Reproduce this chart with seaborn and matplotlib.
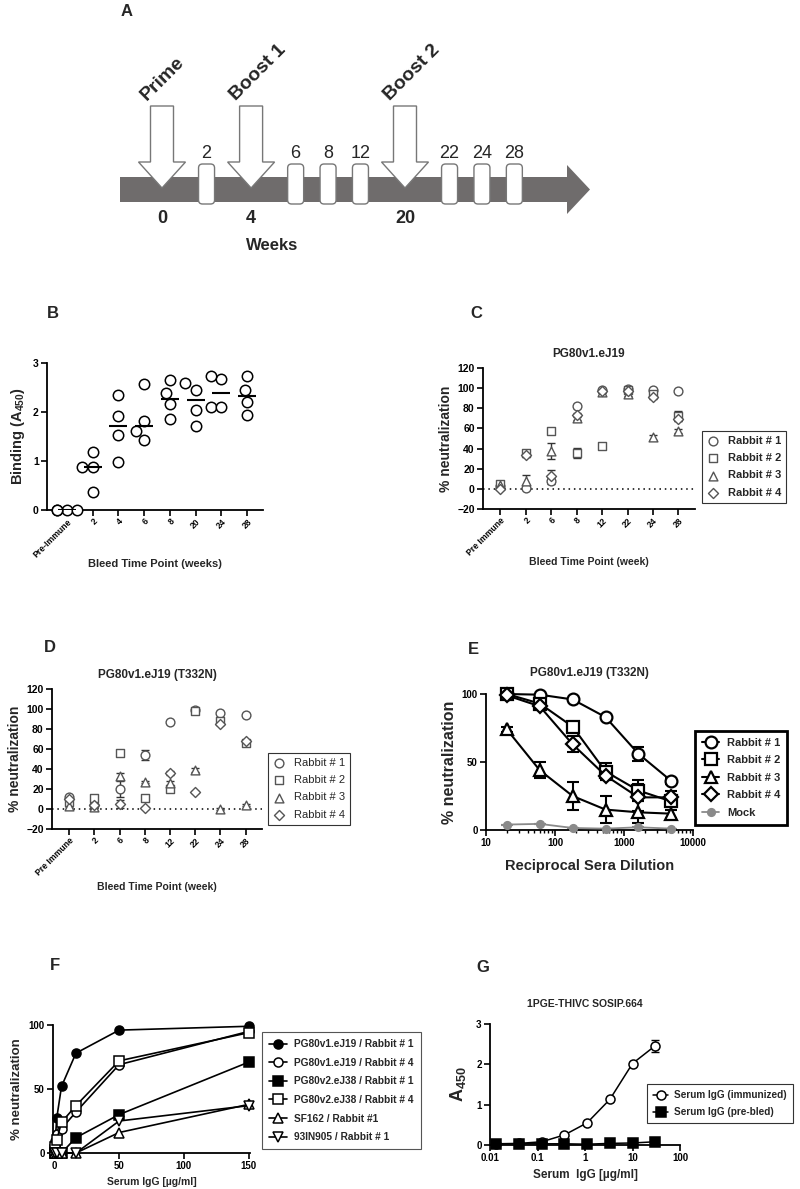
import numpy as np
import pandas as pd
import matplotlib
matplotlib.use('Agg')
import matplotlib.pyplot as plt
import seaborn as sns
from matplotlib.patches import Rectangle, Polygon, FancyBboxPatch

# --- Panel A: immunization schedule ---
imm_weeks = [0, 4, 20]
imm_labels = ['Prime', 'Boost 1', 'Boost 2']
bleed_weeks = [2, 6, 8, 12, 22, 24, 28]

# --- Panel B: binding ELISA ---
b_times = ['Pre-Immune', '2', '4', '6', '8', '20', '24', '28']
b_binding = [
    [0, 0, 0, 0],
    [1.18, 0.87, 0.87, 0.37],
    [2.35, 1.91, 1.53, 0.97],
    [2.57, 1.81, 1.62, 1.43],
    [2.66, 2.39, 2.16, 1.85],
    [2.45, 2.59, 2.04, 1.72],
    [2.68, 2.74, 2.11, 2.11],
    [2.74, 2.44, 2.20, 1.93],
]

# --- Panels C / D: neutralization per bleed ---
rabbits = ['Rabbit # 1', 'Rabbit # 2', 'Rabbit # 3', 'Rabbit # 4']
cd_times = ['Pre Immune', '2', '6', '8', '12', '22', '24', '28']
c_neut = [
    [3, 1, 8, 82, 98, 99, 98, 97],
    [5, 36, 57, 36, 43, 98, 94, 72],
    [4, 8, 38, 70, 96, 94, 51, 57],
    [0, 34, 13, 73, 97, 97, 91, 69],
]
c_err = [
    [1, 1, 3, 2, 1, 1, 1, 1],
    [1, 2, 2, 5, 3, 2, 2, 5],
    [1, 6, 8, 2, 1, 2, 2, 2],
    [1, 2, 6, 2, 1, 1, 2, 2],
]
d_neut = [
    [12, 4, 20, 54, 87, 99, 96, 94],
    [7, 11, 56, 11, 20, 98, 88, 66],
    [3, 2, 33, 27, 26, 39, 0, 4],
    [10, 4, 5, 1, 36, 17, 85, 68],
]
d_err = [
    [1, 1, 8, 5, 1, 1, 1, 1],
    [2, 2, 2, 3, 3, 2, 2, 2],
    [1, 1, 3, 1, 2, 2, 1, 1],
    [1, 3, 4, 1, 2, 1, 1, 1],
]

# --- Panel E: serum titration ---
e_dilution = [20, 60, 180, 540, 1620, 4860]
e_labels = ['Rabbit # 1', 'Rabbit # 2', 'Rabbit # 3', 'Rabbit # 4', 'Mock']
e_neut = [
    [100, 99.5, 96, 83, 56, 36],
    [100, 93, 76, 43, 29, 21],
    [74, 44, 25, 15, 13, 12],
    [99, 91, 63, 40, 24, 24],
    [4, 4.5, 1.5, 1, 2, 1],
]
e_err = [
    [0, 1, 1, 1, 5, 2],
    [1, 2, 2, 6, 8, 4],
    [2, 6, 10, 10, 8, 3],
    [1, 2, 6, 3, 10, 5],
    [0, 0, 0, 0, 0, 0],
]

# --- Panel F: purified IgG neutralization ---
f_conc = [150, 50, 16.7, 5.56, 1.85, 0.62, 0.21]
f_labels = ['PG80v1.eJ19 / Rabbit # 1', 'PG80v1.eJ19 / Rabbit # 4',
            'PG80v2.eJ38 / Rabbit # 1', 'PG80v2.eJ38 / Rabbit # 4',
            'SF162 / Rabbit #1', '93IN905 / Rabbit # 1']
f_neut = [
    [99, 96, 78, 52, 27, 8, 3],
    [95, 69, 32, 19, 15, 9, 4],
    [71, 30, 12, 0, 0, 0, 0],
    [94, 72, 37, 24, 10, 5, 2],
    [38, 16, 0, 0, 0, 0, 0],
    [37, 25, 0, 0, 0, 0, 0],
]

# --- Panel G: IgG binding to SOSIP ---
g_conc = [30, 10, 3.33, 1.11, 0.37, 0.123, 0.041, 0.0137]
g_labels = ['Serum IgG (immunized)', 'Serum IgG (pre-bled)']
g_a450 = [
    [2.46, 2.02, 1.13, 0.55, 0.25, 0.08, 0.04, 0.03],
    [0.08, 0.05, 0.04, 0.02, 0.03, 0.03, 0.03, 0.03],
]
g_err = [0.15, 0.03, 0.02, 0.02, 0.01, 0.01, 0.01, 0.01]

sns.set_theme(style='ticks')
plt.rcParams['font.family'] = ['Liberation Sans', 'DejaVu Sans']
plt.rcParams['font.weight'] = 'bold'
plt.rcParams['axes.labelweight'] = 'bold'
plt.rcParams['axes.titleweight'] = 'bold'
plt.rcParams['mathtext.fontset'] = 'custom'
plt.rcParams['mathtext.rm'] = 'Liberation Sans:bold'
plt.rcParams['mathtext.default'] = 'rm'

W, H = 800, 1189
fig = plt.figure(figsize=(W / 100, H / 100), dpi=100)


def px_axes(l, t, r, b):
    return fig.add_axes([l / W, 1 - b / H, (r - l) / W, (b - t) / H])


def prism(ax, size=7.5):
    sns.despine(ax=ax)
    for s in ['left', 'bottom']:
        ax.spines[s].set_linewidth(1.3)
        ax.spines[s].set_color('black')
    ax.tick_params(direction='out', length=4, width=1.2, labelsize=size, pad=2, colors='black')


def panel_letter(x, y, s):
    fig.text(x / W, 1 - y / H, s, fontsize=12, fontweight='bold', ha='center', va='center')


# ================= A =================
axA = fig.add_axes([0, 1 - 260 / H, 1, 260 / H])
axA.set_xlim(0, W)
axA.set_ylim(260, 0)
axA.axis('off')

# schematic: immunization arrows take a wider slot than bleed boxes
events = sorted([(w, 'imm') for w in imm_weeks] + [(w, 'bleed') for w in bleed_weeks])
slot = {'imm': 1.75, 'bleed': 1.0}
steps = [0.0]
for prev, cur in zip(events[:-1], events[1:]):
    steps.append(steps[-1] + (slot[prev[1]] + slot[cur[1]]) / 2)
xpos = [162 + 32.4 * s for s in steps]

bar_color = '#6f6c6c'
axA.add_patch(Rectangle((120, 177), 567 - 120, 25, color=bar_color, lw=0))
axA.add_patch(Polygon([(567, 165), (590, 189.5), (567, 214)], color=bar_color, lw=0))

for (wk, kind), cx in zip(events, xpos):
    if kind == 'imm':
        shape = [(cx - 11.5, 106), (cx + 11.5, 106), (cx + 11.5, 162), (cx + 23.5, 162),
                 (cx, 188), (cx - 23.5, 162), (cx - 11.5, 162)]
        axA.add_patch(Polygon(shape, facecolor='white', edgecolor='#777777', lw=1, zorder=3))
        axA.text(cx - 15, 101, imm_labels[imm_weeks.index(wk)], rotation=45, rotation_mode='anchor',
                 ha='left', va='baseline', fontsize=14, fontweight='bold')
        axA.text(cx, 210, str(wk), ha='center', va='top', fontsize=13, fontweight='bold')
    else:
        axA.add_patch(FancyBboxPatch((cx - 8, 164), 16, 40, boxstyle='round,pad=0,rounding_size=4',
                                     facecolor='white', edgecolor='#777777', lw=1, zorder=3))
        axA.text(cx, 162, str(wk), ha='center', va='bottom', fontsize=13, fontweight='normal')
axA.text(272, 245, 'Weeks', ha='center', va='center', fontsize=12, fontweight='bold')
panel_letter(127, 12, 'A')

# ================= B =================
axB = px_axes(47, 363, 263, 510)
df_b = pd.DataFrame([(t, v) for t, vals in zip(b_times, b_binding) for v in vals],
                    columns=['time', 'binding'])
sns.swarmplot(data=df_b, x='time', y='binding', order=b_times, color='white', edgecolor='black',
              linewidth=1.1, size=7.5, ax=axB, clip_on=False, zorder=3, warn_thresh=1)
b_med = [np.median(v) for v in b_binding]
b_idx = np.arange(len(b_times))
axB.hlines(b_med, b_idx - 0.35, b_idx + 0.35, color='black', lw=1.5, zorder=4)
axB.set_xlim(-0.78, 7.62)
axB.set_ylim(0, 3)
axB.set_yticks([0, 1, 2, 3])
prism(axB)
axB.set_xticks(b_idx)
axB.set_xticklabels(b_times, rotation=45, ha='right', rotation_mode='anchor', fontsize=6.2)
axB.tick_params(axis='x', pad=1)
axB.set_ylabel('Binding (A$_{450}$)', fontsize=10.5, labelpad=4)
axB.set_xlabel('Bleed Time Point (weeks)', fontsize=8, labelpad=0)
panel_letter(53, 313, 'B')


# ================= C / D =================
def neut_panel(ax, vals, errs, title, legend_xy, legend_bold, xlabelpad):
    markers = ['o', 's', '^', 'D']
    sizes = [40, 34, 40, 26]
    idx = np.arange(len(cd_times))
    ax.axhline(0, ls=(0, (1, 2.5)), color='black', lw=1.1, zorder=1)
    for name, m, sz, v, e in zip(rabbits, markers, sizes, vals, errs):
        ax.errorbar(idx, v, yerr=e, fmt='none', ecolor='#333333', elinewidth=1, capsize=3, zorder=2)
        sns.scatterplot(x=idx, y=v, marker=m, s=sz, color='white', edgecolor='#555555',
                        linewidth=1, label=name, ax=ax, zorder=3, clip_on=False)
    ax.set_xlim(-0.68, 7.65)
    ax.set_ylim(-20, 120)
    ax.set_yticks(range(-20, 121, 20))
    prism(ax)
    ax.set_xticks(idx)
    ax.set_xticklabels(cd_times, rotation=45, ha='right', rotation_mode='anchor', fontsize=6.2)
    ax.tick_params(axis='x', pad=1)
    ax.set_ylabel('% neutralization', fontsize=10, labelpad=3)
    ax.set_xlabel('Bleed Time Point (week)', fontsize=7.5, labelpad=xlabelpad)
    ax.set_title(title, fontsize=8.5, pad=8)
    leg = ax.legend(loc='upper left', bbox_to_anchor=(legend_xy[0] / W, 1 - legend_xy[1] / H),
                    bbox_transform=fig.transFigure, borderaxespad=0, fancybox=False,
                    fontsize=8, handlelength=1.0, handletextpad=0.9, labelspacing=0.65,
                    borderpad=0.45, edgecolor='#333333', framealpha=1)
    leg.get_frame().set_linewidth(0.8)
    for t in leg.get_texts():
        t.set_fontweight('bold' if legend_bold else 'normal')


axC = px_axes(483, 368, 695, 509)
neut_panel(axC, c_neut, c_err, 'PG80v1.eJ19', (702, 431), True, 0)
panel_letter(476, 313, 'C')

axD = px_axes(52, 689, 262, 829)
neut_panel(axD, d_neut, d_err, 'PG80v1.eJ19 (T332N)', (268, 753), False, 3)
panel_letter(50, 648, 'D')

# ================= E =================
axE = px_axes(486, 694, 693, 830)
e_markers = ['o', 's', '^', 'D', 'o']
for name, m, v, e in zip(e_labels, e_markers, e_neut, e_err):
    mock = name == 'Mock'
    col = '#8a8a8a' if mock else 'black'
    axE.errorbar(e_dilution, v, yerr=e, fmt='none', ecolor=col, elinewidth=1.5, capsize=4,
                 capthick=1.5, zorder=2)
    sns.lineplot(x=e_dilution, y=v, marker=m, color=col, lw=1.5 if not mock else 1.3,
                 markersize=5 if mock else (7.5 if m == 'D' else 8.5),
                 markerfacecolor=col if mock else 'white', markeredgecolor=col,
                 markeredgewidth=1.6, label=name, ax=axE, zorder=3, clip_on=False)
axE.set_xscale('log')
axE.set_xlim(10, 10000)
axE.set_ylim(0, 100)
axE.set_yticks([0, 50, 100])
prism(axE, size=7)
axE.tick_params(which='minor', direction='out', length=2.5, width=1, colors='black')
axE.set_xticks([10, 100, 1000, 10000])
axE.set_xticklabels(['10', '100', '1000', '10000'])
axE.set_ylabel('% neutralization', fontsize=11.5, labelpad=3)
axE.set_xlabel('Reciprocal Sera Dilution', fontsize=10.5, labelpad=8)
axE.set_title('PG80v1.eJ19 (T332N)', fontsize=8.5, pad=13)
legE = axE.legend(loc='upper left', bbox_to_anchor=(695 / W, 1 - 731 / H), bbox_transform=fig.transFigure,
                  borderaxespad=0, fancybox=False, fontsize=8, handlelength=1.6, handletextpad=0.7,
                  labelspacing=0.68, borderpad=0.6, edgecolor='black', framealpha=1)
legE.get_frame().set_linewidth(2)
panel_letter(473, 650, 'E')

# ================= F =================
axF = px_axes(53, 1025, 250, 1153)
f_markers = ['o', 'o', 's', 's', '^', 'v']
f_filled = [True, False, True, False, False, False]
for name, m, filled, v in zip(f_labels, f_markers, f_filled, f_neut):
    sns.lineplot(x=f_conc, y=v, marker=m, color='black', lw=1.2, markersize=6.5,
                 markerfacecolor='black' if filled else 'white', markeredgecolor='black',
                 markeredgewidth=1.1, label=name, ax=axF, zorder=3, clip_on=False)
axF.set_xlim(-1, 151)
axF.set_ylim(0, 100)
axF.set_xticks([0, 50, 100, 150])
axF.set_yticks([0, 50, 100])
prism(axF, size=7)
axF.set_ylabel('% neutralization', fontsize=9.5, labelpad=4)
axF.set_xlabel('Serum IgG [\u00b5g/ml]', fontsize=7.5, labelpad=4)
legF = axF.legend(loc='upper left', bbox_to_anchor=(262 / W, 1 - 1032 / H), bbox_transform=fig.transFigure,
                  borderaxespad=0, fancybox=False, fontsize=7.3, handlelength=1.8, handletextpad=0.7,
                  labelspacing=0.85, borderpad=0.7, edgecolor='#555555', framealpha=1)
legF.get_frame().set_linewidth(0.8)
panel_letter(55, 965, 'F')

# ================= G =================
axG = px_axes(490, 1024, 680, 1145)
axG.errorbar(g_conc, g_a450[0], yerr=g_err, fmt='none', ecolor='black', elinewidth=1, capsize=3, zorder=2)
for name, m, filled, v in zip(g_labels, ['o', 's'], [False, True], g_a450):
    sns.lineplot(x=g_conc, y=v, marker=m, color='black', lw=1.1, markersize=6.5,
                 markerfacecolor='black' if filled else 'white', markeredgecolor='black',
                 markeredgewidth=1.1, label=name, ax=axG, zorder=3, clip_on=False)
axG.set_xscale('log')
axG.set_xlim(0.01, 100)
axG.set_ylim(0, 3)
axG.set_yticks([0, 1, 2, 3])
axG.set_xticks([0.01, 0.1, 1, 10, 100])
axG.set_xticklabels(['0.01', '0.1', '1', '10', '100'])
axG.xaxis.set_minor_locator(matplotlib.ticker.NullLocator())
prism(axG, size=7)
axG.set_ylabel('A$_{450}$', fontsize=13, labelpad=6)
axG.set_xlabel('Serum  IgG [\u00b5g/ml]', fontsize=8.5, labelpad=4)
axG.set_title('1PGE-THIVC SOSIP.664', fontsize=7.5, pad=12)
legG = axG.legend(loc='upper left', bbox_to_anchor=(647 / W, 1 - 1084 / H), bbox_transform=fig.transFigure,
                  borderaxespad=0, fancybox=False, fontsize=7.2, handlelength=1.5, handletextpad=0.6,
                  labelspacing=0.7, borderpad=0.6, edgecolor='#333333', framealpha=1)
legG.get_frame().set_linewidth(0.8)
panel_letter(483, 967, 'G')

fig.savefig('out.png', dpi=100)
